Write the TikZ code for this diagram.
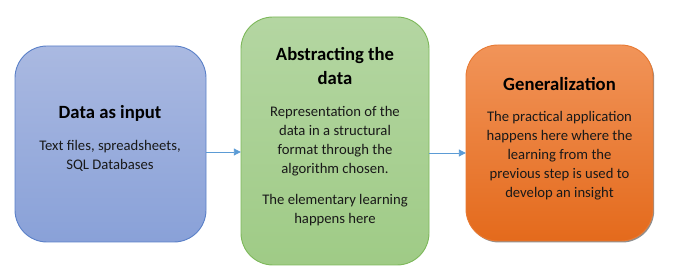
\documentclass[tikz,border=0pt]{standalone}
\usepackage{fontspec}
\setmainfont{Carlito}
\usetikzlibrary{arrows.meta,shadows}
\definecolor{bluetop}{HTML}{AAB9E1}
\definecolor{bluebot}{HTML}{89A1D8}
\definecolor{blueline}{HTML}{5A80C8}
\definecolor{greentop}{HTML}{B4D6A2}
\definecolor{greenbot}{HTML}{9FCB86}
\definecolor{greenline}{HTML}{7DB85A}
\definecolor{orangetop}{HTML}{F19459}
\definecolor{orangebot}{HTML}{E46A1C}
\definecolor{orangeline}{HTML}{E87A33}
\definecolor{arrowblue}{HTML}{5B9BD5}
\begin{document}
\begin{tikzpicture}[x=1pt,y=-1pt,
  box/.style={rounded corners=32pt, line width=0.9pt},
  title/.style={font=\fontsize{18.67}{24}\selectfont\bfseries, align=center, inner sep=0pt, text=black},
  body/.style={font=\fontsize{14.67}{19}\selectfont, align=center, inner sep=0pt, text=black!90},
  conn/.style={draw=arrowblue, line width=0.9pt, -{Triangle[length=7pt,width=7pt]}}
]
\useasboundingbox (0,0) rectangle (673,280);
% boxes
\path[box, draw=blueline, top color=bluetop, bottom color=bluebot] (15,46) rectangle (206,242);
\node[inner sep=0pt, minimum width=191pt, minimum height=196pt] (b1) at (110.5,144) {};
\path[box, draw=greenline, top color=greentop, bottom color=greenbot] (241,17) rectangle (429,265);
\node[inner sep=0pt, minimum width=188pt, minimum height=248pt] (b2) at (335,141) {};
\path[box, draw=orangeline, top color=orangetop, bottom color=orangebot,
  drop shadow={shadow xshift=1.2pt, shadow yshift=-1.5pt, fill=black!55, opacity=0.8}] (466,45) rectangle (653,241);
\node[inner sep=0pt, minimum width=187pt, minimum height=196pt] (b3) at (559.5,143) {};
% texts
\node[title] (t1) at (110,113) {Data as input};
\node[body] (d1) at (110,156) {Text files, spreadsheets,\\SQL Databases};
\node[title] (t2) at (335,66) {Abstracting the\\data};
\node[body] (d2) at (335,141.5) {Representation of the\\data in a structural\\format through the\\algorithm chosen.};
\node[body] (d2b) at (335,210) {The elementary learning\\happens here};
\node[title] (t3) at (559.5,84) {Generalization};
\node[body] (d3) at (559.5,156) {The practical application\\happens here where the\\learning from the\\previous step is used to\\develop an insight};
% connectors
\draw[conn] (b1.east |- 0,152) -- (b2.west |- 0,152);
\draw[conn] (b2.east |- 0,153) -- (b3.west |- 0,153);
\end{tikzpicture}
\end{document}
